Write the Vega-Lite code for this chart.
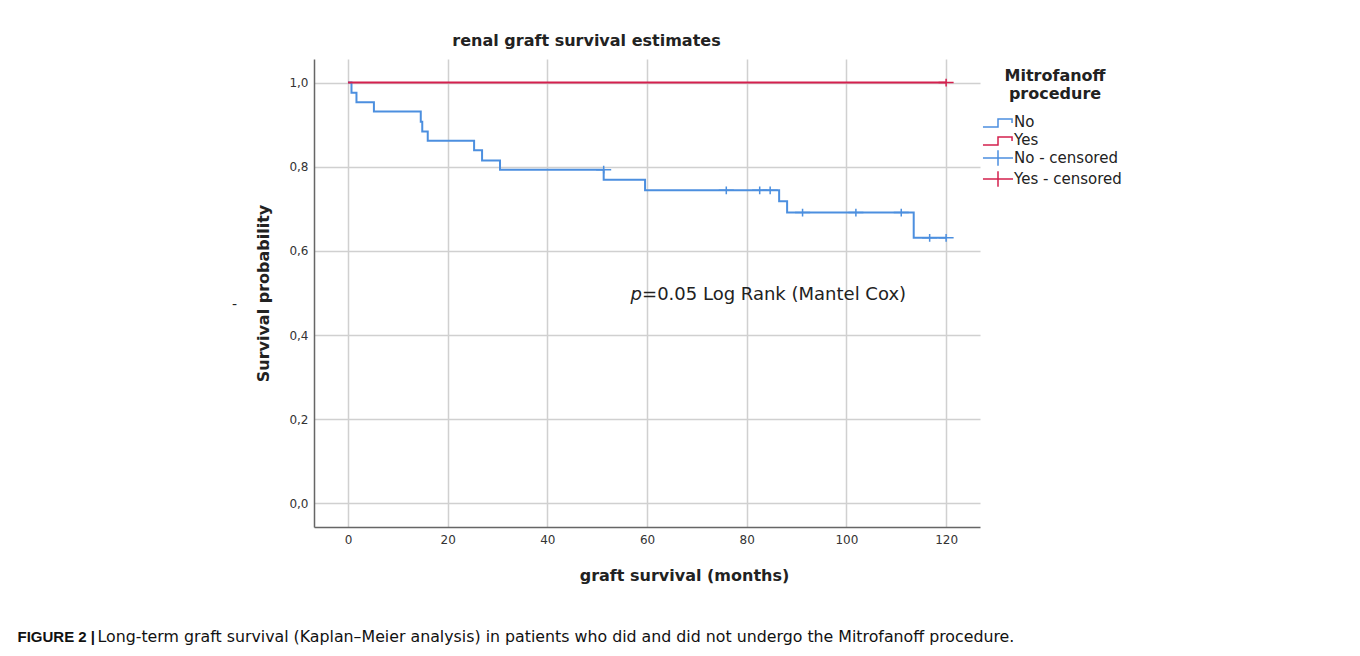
{
  "$schema": "https://vega.github.io/schema/vega-lite/v6.json",
  "width": 666,
  "height": 468,
  "autosize": "none",
  "padding": {"left": 314, "top": 59, "right": 380, "bottom": 129},
  "background": "white",
  "config": {"view": {"stroke": null}, "font": "DejaVu Sans"},
  "datasets": {
    "curves": [
      {"months": 0, "survival": 1.0, "group": "No"},
      {"months": 0.7, "survival": 0.976, "group": "No"},
      {"months": 1.7, "survival": 0.953, "group": "No"},
      {"months": 5.2, "survival": 0.931, "group": "No"},
      {"months": 14.6, "survival": 0.907, "group": "No"},
      {"months": 14.9, "survival": 0.884, "group": "No"},
      {"months": 16.0, "survival": 0.862, "group": "No"},
      {"months": 25.3, "survival": 0.839, "group": "No"},
      {"months": 26.9, "survival": 0.815, "group": "No"},
      {"months": 30.5, "survival": 0.793, "group": "No"},
      {"months": 51.3, "survival": 0.769, "group": "No"},
      {"months": 59.6, "survival": 0.744, "group": "No"},
      {"months": 86.5, "survival": 0.718, "group": "No"},
      {"months": 88.1, "survival": 0.691, "group": "No"},
      {"months": 113.5, "survival": 0.631, "group": "No"},
      {"months": 120, "survival": 0.631, "group": "No"},
      {"months": 0, "survival": 1.0, "group": "Yes"},
      {"months": 120, "survival": 1.0, "group": "Yes"}
    ],
    "censored": [
      {"months": 51.3, "survival": 0.793, "series": "No - censored"},
      {"months": 75.9, "survival": 0.744, "series": "No - censored"},
      {"months": 82.6, "survival": 0.744, "series": "No - censored"},
      {"months": 84.7, "survival": 0.744, "series": "No - censored"},
      {"months": 91.2, "survival": 0.691, "series": "No - censored"},
      {"months": 101.9, "survival": 0.691, "series": "No - censored"},
      {"months": 111.0, "survival": 0.691, "series": "No - censored"},
      {"months": 116.7, "survival": 0.631, "series": "No - censored"},
      {"months": 120, "survival": 0.631, "series": "No - censored"},
      {"months": 120, "survival": 1.0, "series": "Yes - censored"}
    ]
  },
  "resolve": {"axis": {"x": "independent", "y": "independent"}},
  "layer": [
    {
      "data": {"name": "curves"},
      "transform": [{"filter": "datum.group == 'No'"}],
      "mark": {"type": "line", "interpolate": "step-after", "strokeWidth": 2, "color": "#4c8fdf"},
      "encoding": {
        "x": {
          "field": "months", "type": "quantitative",
          "scale": {"domain": [-6.82, 126.8], "nice": false, "zero": false},
          "axis": {
            "orient": "bottom", "values": [0, 20, 40, 60, 80, 100, 120],
            "title": "graft survival (months)", "titleFontSize": 16, "titleFontWeight": "bold", "titleColor": "#222",
            "titleX": 370, "titleY": 48, "titleAlign": "center", "titleBaseline": "middle",
            "labelFontSize": 12, "labelColor": "#333", "labelPadding": 7, "labelFlush": false, "labelOverlap": false,
            "ticks": false, "tickSize": 0,
            "domainColor": "#666", "domainWidth": 1.5,
            "grid": true, "gridColor": "#d0d0d0", "gridWidth": 1.5
          }
        },
        "y": {
          "field": "survival", "type": "quantitative",
          "scale": {"domain": [-0.056, 1.056], "nice": false, "zero": false},
          "axis": {
            "orient": "left", "values": [0, 0.2, 0.4, 0.6, 0.8, 1],
            "labelExpr": "replace(format(datum.value, '.1f'), '.', ',')",
            "title": "Survival probability", "titleFontSize": 16, "titleFontWeight": "bold", "titleColor": "#222",
            "titleX": -51, "titleY": 234, "titleAngle": -90, "titleAlign": "center", "titleBaseline": "middle",
            "labelFontSize": 12, "labelColor": "#333", "labelPadding": 6, "labelFlush": false,
            "ticks": false, "tickSize": 0,
            "domainColor": "#666", "domainWidth": 1.5,
            "grid": true, "gridColor": "#d0d0d0", "gridWidth": 1.5
          }
        }
      }
    },
    {
      "data": {"name": "curves"},
      "transform": [{"filter": "datum.group == 'Yes'"}],
      "mark": {"type": "line", "interpolate": "step-after", "strokeWidth": 2, "color": "#d4204e"},
      "encoding": {
        "x": {"field": "months", "type": "quantitative", "scale": {"domain": [-6.82, 126.8], "nice": false, "zero": false}, "axis": null},
        "y": {"field": "survival", "type": "quantitative", "scale": {"domain": [-0.056, 1.056], "nice": false, "zero": false}, "axis": null}
      }
    },
    {
      "data": {"name": "censored"},
      "mark": {"type": "point", "filled": false, "strokeWidth": 1.5, "size": 81, "opacity": 1},
      "encoding": {
        "x": {
          "field": "months", "type": "quantitative",
          "scale": {"domain": [-6.82, 126.8], "nice": false, "zero": false},
          "axis": {
            "orient": "top", "labels": false, "ticks": false, "domain": false, "grid": false,
            "title": "renal graft survival estimates", "titleFontSize": 16, "titleFontWeight": "bold", "titleColor": "#222",
            "titleX": 272, "titleY": -19, "titleAlign": "center", "titleBaseline": "middle"
          }
        },
        "y": {
          "field": "survival", "type": "quantitative",
          "scale": {"domain": [-0.056, 1.056], "nice": false, "zero": false},
          "axis": {
            "orient": "left", "labels": false, "ticks": false, "domain": false, "grid": false,
            "title": "-", "titleFontSize": 14, "titleFontWeight": "normal", "titleColor": "#222",
            "titleX": -80, "titleY": 245, "titleAngle": 0, "titleAlign": "center", "titleBaseline": "middle"
          }
        },
        "color": {
          "field": "series", "type": "nominal",
          "scale": {"domain": ["No", "Yes", "No - censored", "Yes - censored"], "range": ["#4c8fdf", "#d4204e", "#4c8fdf", "#d4204e"]},
          "legend": {
            "title": ["Mitrofanoff", "procedure"], "orient": "none", "legendX": 674, "legendY": 9,
            "symbolSize": 324, "symbolStrokeWidth": 1.5, "labelFontSize": 15, "labelColor": "#222", "labelOffset": 6, "labelLimit": 300,
            "titleFontSize": 16, "titleFontWeight": "bold", "titleColor": "#222", "titleLineHeight": 18,
            "titleAnchor": "middle", "titleAlign": "center", "titlePadding": 10, "rowPadding": -5.5, "padding": 0
          }
        },
        "shape": {
          "field": "series", "type": "nominal",
          "scale": {
            "domain": ["No", "Yes", "No - censored", "Yes - censored"],
            "range": [
              "M-1.67,0.55L0,0.55L0,-0.33L1.56,-0.33L1.56,0.1",
              "M-1.67,0.55L0,0.55L0,-0.33L1.56,-0.33L1.56,0.1",
              "M-1.67,0L1.67,0M0,-0.85L0,0.85",
              "M-1.67,0L1.67,0M0,-0.85L0,0.85"
            ]
          },
          "legend": {
            "title": ["Mitrofanoff", "procedure"], "orient": "none", "legendX": 674, "legendY": 9,
            "symbolSize": 324, "symbolStrokeWidth": 1.5, "labelFontSize": 15, "labelColor": "#222", "labelOffset": 6, "labelLimit": 300,
            "titleFontSize": 16, "titleFontWeight": "bold", "titleColor": "#222", "titleLineHeight": 18,
            "titleAnchor": "middle", "titleAlign": "center", "titlePadding": 10, "rowPadding": -5.5, "padding": 0
          }
        }
      }
    },
    {
      "data": {"values": [{"note": "p"}]},
      "mark": {"type": "text", "fontStyle": "italic", "fontSize": 18, "align": "left", "baseline": "middle", "color": "#222"},
      "encoding": {
        "text": {"field": "note", "type": "nominal"},
        "x": {
          "datum": 56.7, "type": "quantitative",
          "scale": {"domain": [-6.82, 126.8], "nice": false, "zero": false},
          "axis": {
            "orient": "bottom", "labels": false, "ticks": false, "domain": false, "grid": false,
            "title": "FIGURE 2 |", "titleFont": "Liberation Sans", "titleFontSize": 15, "titleFontWeight": "bold", "titleColor": "#111",
            "titleX": -297, "titleY": 109, "titleAlign": "left", "titleBaseline": "middle"
          }
        },
        "y": {
          "datum": 0.495, "type": "quantitative",
          "scale": {"domain": [-0.056, 1.056], "nice": false, "zero": false},
          "axis": null
        }
      }
    },
    {
      "data": {"values": [{"note": "=0.05 Log Rank (Mantel Cox)"}]},
      "mark": {"type": "text", "fontSize": 18, "align": "left", "baseline": "middle", "color": "#222"},
      "encoding": {
        "text": {"field": "note", "type": "nominal"},
        "x": {
          "datum": 59.0, "type": "quantitative",
          "scale": {"domain": [-6.82, 126.8], "nice": false, "zero": false},
          "axis": {
            "orient": "bottom", "labels": false, "ticks": false, "domain": false, "grid": false,
            "title": "Long-term graft survival (Kaplan–Meier analysis) in patients who did and did not undergo the Mitrofanoff procedure.",
            "titleFont": "DejaVu Sans", "titleFontSize": 15.8, "titleFontWeight": "normal", "titleColor": "#111", "titleLimit": 2000,
            "titleX": -217, "titleY": 109, "titleAlign": "left", "titleBaseline": "middle"
          }
        },
        "y": {
          "datum": 0.495, "type": "quantitative",
          "scale": {"domain": [-0.056, 1.056], "nice": false, "zero": false},
          "axis": null
        }
      }
    }
  ]
}
